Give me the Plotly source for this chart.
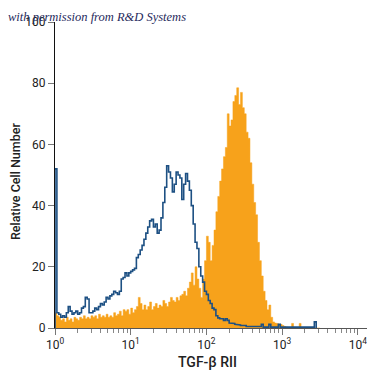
import numpy as np
import plotly.graph_objects as go

# ---- data (relative cell number per log channel, 0.025 decade channels from 10^0) ----
channel_log_width = 0.025

tgfbrii_counts = [
    5, 4, 3.5, 2.5, 3, 2, 3.5, 2.5, 3, 2,
    3.5, 3, 2.5, 3.5, 3, 4, 3, 3.5, 3, 4,
    3.5, 4, 3, 4.5, 3.5, 4, 3.5, 4.5, 3.5, 4,
    3.5, 5, 4, 4.5, 5.5, 4, 6, 5.5, 6, 4.5,
    6.5, 5, 6, 7, 10, 8, 6, 7.5, 6, 7,
    8.5, 6, 7, 8, 6.5, 7.5, 7, 9, 8, 7,
    8.5, 10, 9, 8.5, 10, 9, 10.5, 11, 12, 10.5,
    13, 15, 18, 14, 20, 16, 13, 10, 16, 22,
    30, 28, 22, 27, 32, 38, 43, 48, 52, 56,
    59, 70, 66, 68, 74, 76, 78.5, 73, 77, 72,
    70, 64, 62, 54, 47, 41, 37, 28, 22, 17,
    12, 9, 6, 7.5, 3.5, 2, 1.6, 1.5, 1, 1.2,
    0.8, 0.5, 0.3, 0, 0, 1.5, 0, 0, 0, 1.5,
    0, 0, 0, 0, 0, 0, 0, 0, 0, 0,
]

isotype_counts = [
    52, 5, 4.5, 3.5, 4, 3.5, 5, 7, 5.5, 4.5,
    5, 5.5, 4.5, 5, 6.5, 7, 10, 9.5, 5, 5,
    5.5, 6.5, 6, 7, 8, 7.5, 8.5, 10, 9.5, 10.5,
    11, 12, 11.5, 11, 12, 16, 16.5, 18, 17, 18,
    18.5, 19, 19.5, 23, 24, 25.5, 27, 29, 31, 33,
    35, 35.5, 33, 34, 31, 32, 36, 41, 46, 53,
    51, 49, 44.5, 47, 51, 50, 49, 42, 47, 50.5,
    48, 45, 40, 34, 28, 26, 20, 17, 15, 12,
    11, 9, 8, 6.5, 6, 4, 3.3, 3, 3, 2.5,
    3, 2.5, 1.6, 1.5, 1.5, 1.2, 1, 1, 0.8, 0.8,
    0.8, 0.5, 0.5, 0.3, 0.3, 0.3, 0.3, 0.3, 0.5, 1.2,
    0.3, 0.3, 0.3, 1.2, 0.3, 0.3, 0.3, 0.3, 1.2, 0.3,
    0.3, 0.3, 0.3, 0.3, 0.3, 0.3, 0.3, 0.3, 0.3, 0.3,
    0.3, 0.3, 0.3, 0.3, 0.3, 0.3, 0.3, 2,
]

x_tick_values = [1, 10, 100, 1000, 10000]
x_tick_labels = ["10<sup>0</sup>", "10<sup>1</sup>", "10<sup>2</sup>",
                 "10<sup>3</sup>", "10<sup>4</sup>"]
y_tick_values = [0, 20, 40, 60, 80, 100]
y_tick_labels = ["0", "20", "40", "60", "80", "100"]


def step_xy(counts):
    edges = 10 ** (np.arange(len(counts) + 1) * channel_log_width)
    xs, ys = [edges[0]], [0]
    for i, c in enumerate(counts):
        xs += [edges[i], edges[i + 1]]
        ys += [c, c]
    xs.append(edges[len(counts)])
    ys.append(0)
    return xs, ys


FONT = "Roboto, Liberation Sans, sans-serif"

fig = go.Figure()
ox, oy = step_xy(tgfbrii_counts)
fig.add_trace(go.Scatter(x=ox, y=oy, mode="lines", fill="tozeroy",
                         line=dict(color="#F7A21B", width=0.5),
                         fillcolor="#F7A21B", hoverinfo="skip"))
bx, by = step_xy(isotype_counts)
fig.add_trace(go.Scatter(x=bx, y=by, mode="lines",
                         line=dict(color="#1d5083", width=1.6),
                         hoverinfo="skip"))

minor_vals = [k * 10 ** d for d in range(4) for k in range(2, 10)]

# the page body has an 8px default margin, so the figure is 367px and offset
fig.update_layout(
    width=367, height=367,
    margin=dict(l=47, r=2, t=14, b=47),
    paper_bgcolor="white", plot_bgcolor="white",
    showlegend=False,
    font=dict(family=FONT, color="#222", size=12),
    xaxis=dict(type="log", range=[0, 4.2], showgrid=False, zeroline=False,
               showline=True, linecolor="#555", linewidth=1,
               ticks="outside", ticklen=6, tickcolor="#777",
               tickvals=x_tick_values, ticktext=x_tick_labels,
               tickfont=dict(family=FONT, size=12, color="#222"),
               minor=dict(tickvals=minor_vals, ticks="outside", ticklen=4,
                          tickcolor="#888", showgrid=False)),
    yaxis=dict(range=[0, 100], showgrid=False, zeroline=False,
               showline=True, linecolor="#111", linewidth=1,
               ticks="outside", ticklen=6, tickcolor="#777",
               tickvals=y_tick_values, ticktext=y_tick_labels,
               tickfont=dict(family=FONT, size=12, color="#222")),
    annotations=[
        dict(text="TGF-β RII", xref="paper", yref="paper", x=0.478, y=0,
             yshift=-34, xanchor="center", yanchor="middle", showarrow=False,
             font=dict(family=FONT, size=14, color="#222", weight=500)),
        dict(text="Relative Cell Number", xref="paper", yref="paper", x=0,
             xshift=-40, y=0.48, textangle=-90, xanchor="center",
             yanchor="middle", showarrow=False,
             font=dict(family=FONT, size=12.5, color="#222", weight=500)),
        dict(text="<i>with permission from R&amp;D Systems</i>", xref="paper",
             yref="paper", x=-0.154, y=1, yshift=5, xanchor="left",
             yanchor="middle", showarrow=False,
             font=dict(family="Liberation Serif, DejaVu Serif, serif",
                       size=12.5, color="#1f2a5c")),
    ],
)

fig.write_html("out.html")
